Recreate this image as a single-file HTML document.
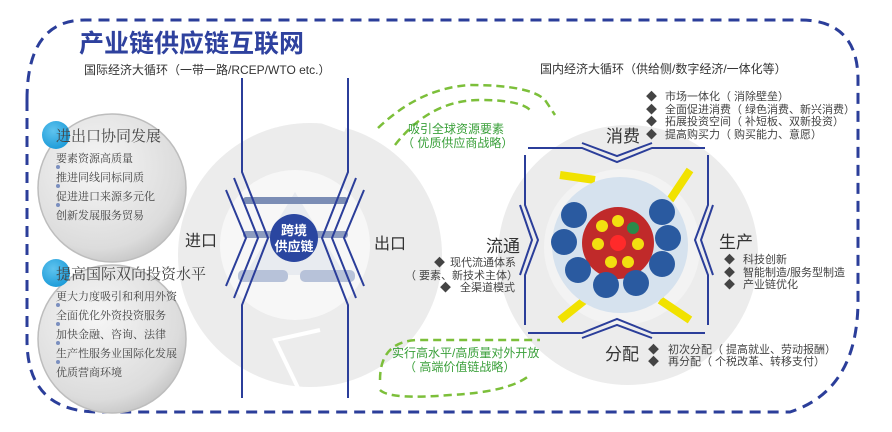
<!DOCTYPE html>
<html><head><meta charset="utf-8"><style>
html,body{margin:0;padding:0;background:#fff;}
svg{display:block;font-family:"Liberation Sans","Noto Sans CJK SC",sans-serif;}
</style></head><body>
<svg width="892" height="432" viewBox="0 0 892 432" xmlns="http://www.w3.org/2000/svg">
<defs>
<radialGradient id="bub" cx="40%" cy="35%" r="70%"><stop offset="0" stop-color="#f6f6f6"/><stop offset="0.8" stop-color="#dcdcdc"/><stop offset="1" stop-color="#c4c4c4"/></radialGradient>
<radialGradient id="dot" cx="40%" cy="35%" r="70%"><stop offset="0" stop-color="#5fc3ee"/><stop offset="1" stop-color="#1a9ad8"/></radialGradient>
</defs>
<path d="M27,100 L27,340 Q27,412 99,412 L440,412" fill="none" stroke="#2b3e9a" stroke-width="3" stroke-dasharray="11,7"/>
<path d="M27,100 Q27,20 85,20 L800,20 Q858,20 858,80 L858,300 Q858,390 790,412 L440,412" fill="none" stroke="#2b3e9a" stroke-width="3" stroke-dasharray="11,7"/>
<text x="79" y="52" font-size="25" fill="#2e419e" font-weight="bold">产业链供应链互联网</text>
<text x="84" y="74" font-size="12" fill="#333">国际经济大循环（一带一路/RCEP/WTO etc.）</text>
<text x="540" y="73" font-size="12" fill="#333">国内经济大循环（供给侧/数字经济/一体化等）</text>

<circle cx="310" cy="255" r="132" fill="#ececec"/>
<path d="M290,82 L330,90 L318,120 L345,130" fill="none" stroke="#fff" stroke-width="4"/>
<path d="M268,400 L300,392 L275,340 L320,330" fill="none" stroke="#fff" stroke-width="4"/>
<circle cx="295" cy="245" r="75" fill="#f7f7f7"/>
<path d="M295,192 L345,275 L245,275 Z" fill="#e8ebf0"/>
<rect x="243" y="197" width="105" height="7" rx="3" fill="#7b8db5"/>
<rect x="243" y="231" width="105" height="7" rx="3" fill="#8d9cc0"/>
<rect x="238" y="270" width="50" height="12" rx="5" fill="#b7c2d9"/>
<rect x="300" y="270" width="55" height="12" rx="5" fill="#b7c2d9"/>
<g stroke="#2b3e9a" stroke-width="2" fill="none">
<path d="M242,78 L242,172 L268,238 L242,305 L242,398"/>
<path d="M348,78 L348,172 L322,238 L348,305 L348,398"/>
<path d="M234,178 L258,238 L234,298"/>
<path d="M226,190 L246,238 L226,286"/>
<path d="M356,178 L332,238 L356,298"/>
<path d="M364,190 L344,238 L364,286"/>
</g>
<circle cx="294" cy="238" r="24" fill="#2a46a0"/>
<text x="294" y="235" font-size="13" fill="#fff" text-anchor="middle" font-weight="bold">跨境</text>
<text x="294" y="251" font-size="13" fill="#fff" text-anchor="middle" font-weight="bold">供应链</text>
<text x="185" y="246" font-size="16" fill="#333">进口</text>
<text x="374" y="249" font-size="16" fill="#333">出口</text>

<circle cx="112" cy="188" r="74" fill="url(#bub)" stroke="#bdbdbd" stroke-width="1.5"/>
<circle cx="112" cy="339" r="74" fill="url(#bub)" stroke="#bdbdbd" stroke-width="1.5"/>
<circle cx="56" cy="135" r="14" fill="url(#dot)"/>
<circle cx="56" cy="273" r="14" fill="url(#dot)"/>
<g font-family="'Liberation Serif','Noto Serif CJK SC',serif" fill="#444">
<text x="56" y="141" font-size="15">进出口协同发展</text>
<text x="56" y="162" font-size="11">要素资源高质量</text>
<text x="56" y="181" font-size="11">推进同线同标同质</text>
<text x="56" y="200" font-size="11">促进进口来源多元化</text>
<text x="56" y="219" font-size="11">创新发展服务贸易</text>
<text x="56" y="279" font-size="15">提高国际双向投资水平</text>
<text x="56" y="300" font-size="11">更大力度吸引和利用外资</text>
<text x="56" y="319" font-size="11">全面优化外资投资服务</text>
<text x="56" y="338" font-size="11">加快金融、咨询、法律</text>
<text x="56" y="357" font-size="11">生产性服务业国际化发展</text>
<text x="56" y="376" font-size="11">优质营商环境</text>
</g>
<g fill="#7b8fbf"><circle cx="58" cy="167" r="2"/><circle cx="58" cy="186" r="2"/><circle cx="58" cy="205" r="2"/><circle cx="58" cy="305" r="2"/><circle cx="58" cy="324" r="2"/><circle cx="58" cy="343" r="2"/><circle cx="58" cy="362" r="2"/></g>

<circle cx="628" cy="255" r="130" fill="#ececec"/>
<circle cx="622" cy="247" r="78" fill="#f3f3f3"/>
<path d="M560,175 L595,180 M690,170 L670,200 M690,320 L660,300 M560,320 L585,300" stroke="#f1e200" stroke-width="8"/>
<circle cx="620" cy="245" r="68" fill="#d6e2ee"/>
<circle cx="618" cy="243" r="36" fill="#c02a2a"/>
<circle cx="618" cy="243" r="8" fill="#ff2a2a"/>
<g fill="#f2df10"><circle cx="602" cy="226" r="6"/><circle cx="618" cy="221" r="6"/><circle cx="598" cy="244" r="6"/><circle cx="638" cy="244" r="6"/><circle cx="611" cy="262" r="6"/><circle cx="628" cy="262" r="6"/></g>
<circle cx="633" cy="228" r="6" fill="#2a8a4a"/>
<g fill="#2a5aa0"><circle cx="574" cy="215" r="13"/><circle cx="564" cy="242" r="13"/><circle cx="578" cy="270" r="13"/><circle cx="606" cy="285" r="13"/><circle cx="636" cy="283" r="13"/><circle cx="662" cy="264" r="13"/><circle cx="668" cy="238" r="13"/><circle cx="662" cy="212" r="13"/></g>
<g stroke="#2b3e9a" stroke-width="2" fill="none">
<path d="M528,148 L582,148 L617,162 L652,148 L705,148"/>
<path d="M582,143 L617,156 L652,143"/>
<path d="M528,333 L582,333 L617,319 L652,333 L705,333"/>
<path d="M582,338 L617,325 L652,338"/>
<path d="M525,155 L525,205 L538,240 L525,275 L525,325"/>
<path d="M520,205 L532,240 L520,275"/>
<path d="M708,155 L708,205 L695,240 L708,275 L708,325"/>
<path d="M713,205 L701,240 L713,275"/>
</g>
<text x="606" y="142" font-size="17" fill="#333">消费</text>
<text x="486" y="252" font-size="17" fill="#333">流通</text>
<text x="719" y="248" font-size="17" fill="#333">生产</text>
<text x="605" y="360" font-size="17" fill="#333">分配</text>
<g font-size="11" fill="#444">
<text x="646" y="100">◆</text><text x="665" y="100">市场一体化（ 消除壁垒）</text>
<text x="646" y="113">◆</text><text x="665" y="113">全面促进消费（ 绿色消费、新兴消费）</text>
<text x="646" y="125">◆</text><text x="665" y="125">拓展投资空间（ 补短板、双新投资）</text>
<text x="646" y="138">◆</text><text x="665" y="138">提高购买力（ 购买能力、意愿）</text>
<text x="724" y="263">◆</text><text x="743" y="263">科技创新</text>
<text x="724" y="276">◆</text><text x="743" y="276">智能制造/服务型制造</text>
<text x="724" y="288">◆</text><text x="743" y="288">产业链优化</text>
<text x="648" y="353">◆</text><text x="668" y="353">初次分配（ 提高就业、劳动报酬）</text>
<text x="648" y="365">◆</text><text x="668" y="365">再分配（ 个税改革、转移支付）</text>
<text x="434" y="266">◆</text><text x="450" y="266">现代流通体系</text>
<text x="405" y="279">（ 要素、新技术主体）</text>
<text x="440" y="291">◆</text><text x="460" y="291">全渠道模式</text>
</g>
<g fill="none" stroke="#7cbf3a" stroke-width="2.5" stroke-dasharray="8,5">
<path d="M378,128 Q420,88 470,85 Q530,85 545,100 L555,115"/>
<path d="M395,145 Q430,100 480,100 Q520,100 530,110"/>
<path d="M380,380 Q380,340 420,340 L540,340"/>
<path d="M380,390 Q390,400 450,395 Q510,392 530,375"/>
</g>
<text x="408" y="133" font-size="12" fill="#3aa03a">吸引全球资源要素</text>
<text x="402" y="147" font-size="12" fill="#3aa03a">（ 优质供应商战略）</text>
<text x="392" y="357" font-size="12" fill="#3aa03a">实行高水平/高质量对外开放</text>
<text x="404" y="371" font-size="12" fill="#3aa03a">（ 高端价值链战略）</text>
</svg>
</body></html>
